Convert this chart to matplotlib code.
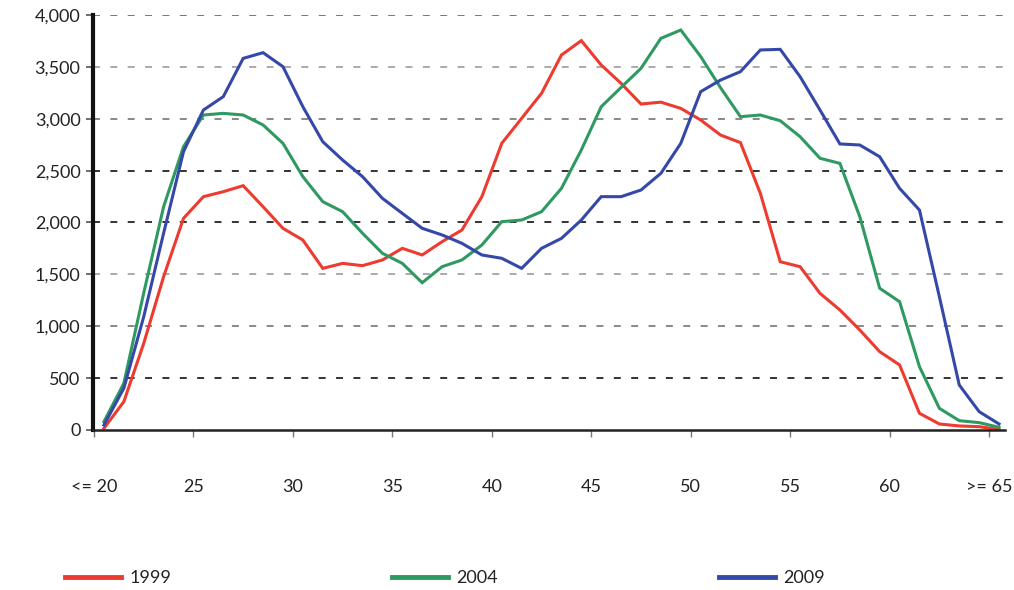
import matplotlib
matplotlib.use("Agg")
import matplotlib.pyplot as plt
import numpy as np

plt.rcParams['font.family'] = ['Lato', 'DejaVu Sans']
plt.rcParams['lines.scale_dashes'] = False

ages = list(range(20, 66))
tick_labels = ["<= 20", "25", "30", "35", "40", "45", "50", "55", "60", ">= 65"]
series_names = ["1999", "2004", "2009"]

v1999 = [16, 273, 835, 1478, 2040, 2249, 2297, 2355, 2152, 1944, 1831, 1558,
         1606, 1584, 1639, 1751, 1687, 1815, 1928, 2249, 2763, 3004, 3245, 3614,
         3753, 3518, 3341, 3142, 3160, 3100, 2988, 2843, 2770, 2281, 1622, 1574,
         1317, 1157, 964, 755, 627, 161, 58, 39, 32, 5]
v2004 = [80, 450, 1320, 2152, 2731, 3036, 3052, 3036, 2940, 2763, 2442, 2201,
         2104, 1896, 1703, 1606, 1420, 1574, 1639, 1783, 2008, 2024, 2104, 2329,
         2699, 3116, 3302, 3486, 3775, 3855, 3600, 3299, 3020, 3036, 2981, 2827,
         2619, 2570, 2056, 1366, 1237, 610, 209, 90, 71, 26]
v2009 = [48, 402, 1092, 1897, 2683, 3084, 3213, 3582, 3637, 3502, 3116, 2779,
         2602, 2442, 2233, 2088, 1944, 1880, 1799, 1687, 1655, 1558, 1751, 1847,
         2024, 2249, 2249, 2313, 2474, 2763, 3261, 3373, 3454, 3663, 3669, 3405,
         3084, 2757, 2747, 2634, 2329, 2120, 1285, 434, 177, 58]

colors = ["#EE3B2F", "#2E9960", "#3548A8"]

fig = plt.figure(figsize=(10.14, 5.90), dpi=100)
ax = fig.add_axes([93/1014, (590-430)/590, (1005-93)/1014, (430-15)/590])

x = np.arange(len(ages)) + 0.5
for vals, c, name in zip([v1999, v2004, v2009], colors, series_names):
    ax.plot(x, vals, color=c, lw=2.2, label=name, solid_joinstyle='miter', zorder=3)

ax.set_xlim(-0.05, 45.8)
ax.set_ylim(0, 4000)
ax.set_yticks(np.arange(0, 4001, 500))
ax.set_yticklabels([f"{v:,}" for v in range(0, 4001, 500)])
ax.set_xticks(np.arange(0, 46, 5))
ax.set_xticklabels(tick_labels)

for s in ["top", "right"]:
    ax.spines[s].set_visible(False)
ax.spines["left"].set_linewidth(3.0)
ax.spines["left"].set_color("#111111")
ax.spines["bottom"].set_linewidth(1.8)
ax.spines["bottom"].set_color("#222222")
ax.spines["bottom"].set_zorder(4)

ax.tick_params(axis='y', length=5, width=1.2, color='#555555', labelsize=13,
               labelcolor='#222222', pad=4)
ax.tick_params(axis='x', length=5, width=1.0, color='#777777', labelsize=13,
               labelcolor='#222222', pad=30)

ax.yaxis.grid(True, linestyle=(0, (5, 7.5)), linewidth=1.4)
grid_colors = ["#888888", "#333333", "#888888", "#aaaaaa", "#333333",
               "#333333", "#888888", "#aaaaaa", "#777777"]
for gl, gc in zip(ax.get_ygridlines(), grid_colors):
    gl.set_color(gc)
ax.get_ygridlines()[0].set_visible(False)
ax.set_axisbelow(True)

leg = fig.legend(loc='center left', bbox_to_anchor=(65/1014, 12/590), ncol=3,
                 frameon=False, fontsize=13, handlelength=3.1, handletextpad=0.45,
                 columnspacing=12.25, borderpad=0, borderaxespad=0)
for line in leg.get_lines():
    line.set_linewidth(3.5)
for t in leg.get_texts():
    t.set_color('#222222')

fig.savefig("out.png", dpi=100)
